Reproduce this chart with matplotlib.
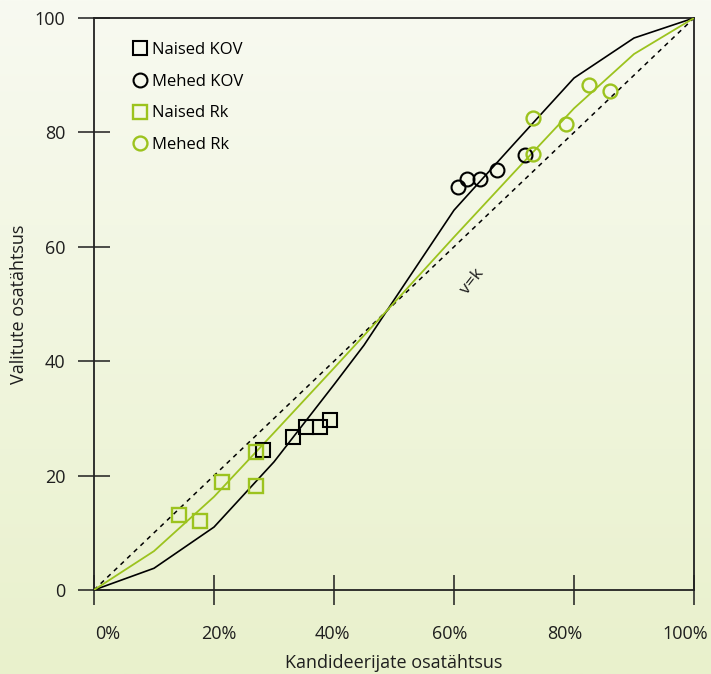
import numpy as np
import matplotlib
matplotlib.use("Agg")
import matplotlib.pyplot as plt
from matplotlib.transforms import ScaledTranslation
from matplotlib.colors import LinearSegmentedColormap

plt.rcParams['font.family'] = ['Open Sans', 'DejaVu Sans']

# ---- data ----
curve_x = [0, 10, 20, 30, 40, 45, 50, 60, 70, 80, 90, 100]
kov_curve = [0, 3.8, 11.0, 22.4, 35.9, 42.8, 50.7, 66.4, 78.0, 89.5, 96.5, 100]
rk_curve_x = [0, 10, 20, 30, 40, 50, 60, 70, 80, 90, 100]
rk_curve = [0, 6.8, 16.3, 27.5, 38.8, 50.2, 61.7, 73.0, 84.2, 93.7, 100]

naised_kov_x = [28.2, 33.1, 35.4, 37.6, 39.3]
naised_kov_y = [24.5, 26.7, 28.5, 28.5, 29.8]
mehed_kov_x = [60.7, 62.2, 64.4, 67.1, 71.8]
mehed_kov_y = [70.5, 71.8, 71.8, 73.5, 76.1]
naised_rk_x = [14.1, 17.6, 21.3, 27.0, 27.0]
naised_rk_y = [13.1, 12.1, 18.9, 24.1, 18.2]
mehed_rk_x = [73.2, 73.1, 78.7, 82.5, 86.0]
mehed_rk_y = [82.6, 76.3, 81.4, 88.3, 87.3]

xticks = [0, 20, 40, 60, 80, 100]
xticklabels = ['0%', '20%', '40%', '60%', '80%', '100%']
yticks = [0, 20, 40, 60, 80, 100]

GREEN = '#9cc31e'
TXT = '#1e1e1e'

fig = plt.figure(figsize=(7.11, 6.74), dpi=100)

# gradient background
bg = fig.add_axes([0, 0, 1, 1], zorder=-10)
cmap = LinearSegmentedColormap.from_list('bg', ['#f8faf1', '#e9f1cc'])
bg.imshow(np.linspace(0, 1, 256).reshape(-1, 1), aspect='auto', cmap=cmap,
          extent=[0, 1, 0, 1])
bg.set_axis_off()

ax = fig.add_axes([94/711, 1-590/674, 600/711, 572/674])
ax.set_facecolor('none')

ax.plot([0, 100], [0, 100], color='black', lw=1.1, ls=(0, (3, 3)), zorder=2)
ax.plot(curve_x, kov_curve, color='black', lw=1.2, zorder=3)
ax.plot(rk_curve_x, rk_curve, color=GREEN, lw=1.3, zorder=3)

ms = 10
ax.plot(naised_kov_x, naised_kov_y, 's', ms=ms, mfc='none', mec='black', mew=1.5,
        label='Naised KOV', zorder=4)
ax.plot(mehed_kov_x, mehed_kov_y, 'o', ms=ms, mfc='none', mec='black', mew=1.5,
        label='Mehed KOV', zorder=4)
ax.plot(naised_rk_x, naised_rk_y, 's', ms=ms, mfc='none', mec=GREEN, mew=1.7,
        label='Naised Rk', zorder=4)
ax.plot(mehed_rk_x, mehed_rk_y, 'o', ms=ms, mfc='none', mec=GREEN, mew=1.7,
        label='Mehed Rk', zorder=4)

ax.text(63.0, 53.9, 'v=k', rotation=52, ha='center', va='center', fontsize=12.5,
        color=TXT)

ax.set_xlim(0, 100)
ax.set_ylim(0, 100)
ax.set_xticks(xticks)
ax.set_xticklabels(xticklabels)
ax.set_yticks(yticks)
ax.tick_params(axis='x', direction='inout', length=22, width=1.1, pad=14,
               labelsize=13, colors=TXT)
ax.tick_params(axis='y', direction='inout', length=23, width=1.1, pad=9,
               labelsize=13, colors=TXT)
for s in ax.spines.values():
    s.set_linewidth(1.3)
    s.set_color('#222222')

offsets_px = [14, 5, -2, -4, -9, -9]
for lab, dx in zip(ax.get_xticklabels(), offsets_px):
    lab.set_transform(lab.get_transform() + ScaledTranslation(dx/100, 0, fig.dpi_scale_trans))

ax.set_xlabel('Kandideerijate osatähtsus', fontsize=13, labelpad=8, color=TXT)
ax.set_ylabel('Valitute osatähtsus', fontsize=13, labelpad=5, color=TXT)

leg = ax.legend(loc='upper left', bbox_to_anchor=(0.055, 0.97), frameon=False,
                fontsize=12, handlelength=0.8, handletextpad=0.3,
                labelspacing=0.95, borderaxespad=0)

fig.savefig('out.png', dpi=100)
